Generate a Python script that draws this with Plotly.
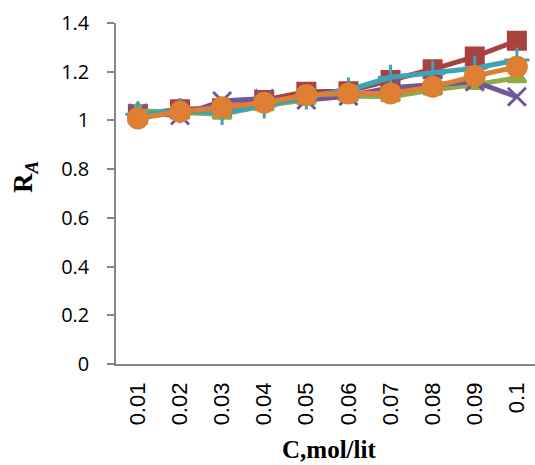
import plotly.graph_objects as go

categories = ["0.01", "0.02", "0.03", "0.04", "0.05", "0.06", "0.07", "0.08", "0.09", "0.1"]
red_sq = [1.025, 1.046, 1.05, 1.084, 1.118, 1.12, 1.166, 1.21, 1.262, 1.327]
green_tri = [1.04, 1.03, 1.025, 1.06, 1.085, 1.10, 1.097, 1.125, 1.147, 1.175]
purple_x = [1.03, 1.02, 1.08, 1.09, 1.084, 1.10, 1.134, 1.147, 1.159, 1.097]
teal_plus = [1.025, 1.04, 1.033, 1.06, 1.097, 1.125, 1.177, 1.193, 1.214, 1.248]
orange_circ = [1.008, 1.036, 1.054, 1.073, 1.104, 1.111, 1.111, 1.138, 1.182, 1.22]

series = [
    (red_sq, "#A8423F", "square", 17),
    (green_tri, "#8DAA4C", "triangle-up", 16),
    (purple_x, "#70579A", "x-thin-open", 18),
    (teal_plus, "#3FA2B8", "cross-thin-open", 18),
    (orange_circ, "#DE7F33", "circle", 19),
]

fig = go.Figure()
for vals, col, sym, sz in series:
    fig.add_trace(go.Scatter(
        x=categories, y=vals, mode="lines+markers",
        line=dict(color=col, width=5),
        marker=dict(symbol=sym, size=sz, color=col, line=dict(color=col, width=3)),
        cliponaxis=False, showlegend=False,
    ))

fig.update_layout(
    width=535, height=465,
    margin=dict(l=116, r=0, t=23, b=101),
    paper_bgcolor="white", plot_bgcolor="white",
    xaxis=dict(
        type="category", range=[-0.52, 9.43],
        showline=True, linecolor="#868686", linewidth=1.5,
        showgrid=False, ticks="", tickangle=-90,
        tickfont=dict(family="Liberation Sans", size=22, color="black"),
        ticklabelstandoff=8,
    ),
    yaxis=dict(
        range=[0, 1.4], dtick=0.2, tick0=0,
        showline=True, linecolor="#868686", linewidth=1.5,
        showgrid=False, zeroline=False,
        ticks="outside", ticklen=7, tickcolor="#868686", tickwidth=1.5,
        tickfont=dict(family="Open Sans", size=20, color="black"),
        ticklabelstandoff=14,
    ),
    annotations=[
        dict(text="<b>R<sub><i>A</i></sub></b>", x=25, y=177, xref="paper", yref="paper",
             showarrow=False, textangle=-90,
             font=dict(family="Liberation Serif", size=27, color="black")),
        dict(text="<b>C,mol/lit</b>", x=329, y=449, xref="paper", yref="paper",
             showarrow=False,
             font=dict(family="Liberation Serif", size=25, color="black")),
    ],
)

# convert pixel positions of annotations to paper coords
pw = 535 - 116 - 0
ph = 465 - 23 - 101
for a in fig.layout.annotations:
    px, py = a.x, a.y
    a.x = (px - 116) / pw
    a.y = (465 - 101 - py) / ph
    a.xanchor = "center"
    a.yanchor = "middle"

fig.write_html("out.html")
